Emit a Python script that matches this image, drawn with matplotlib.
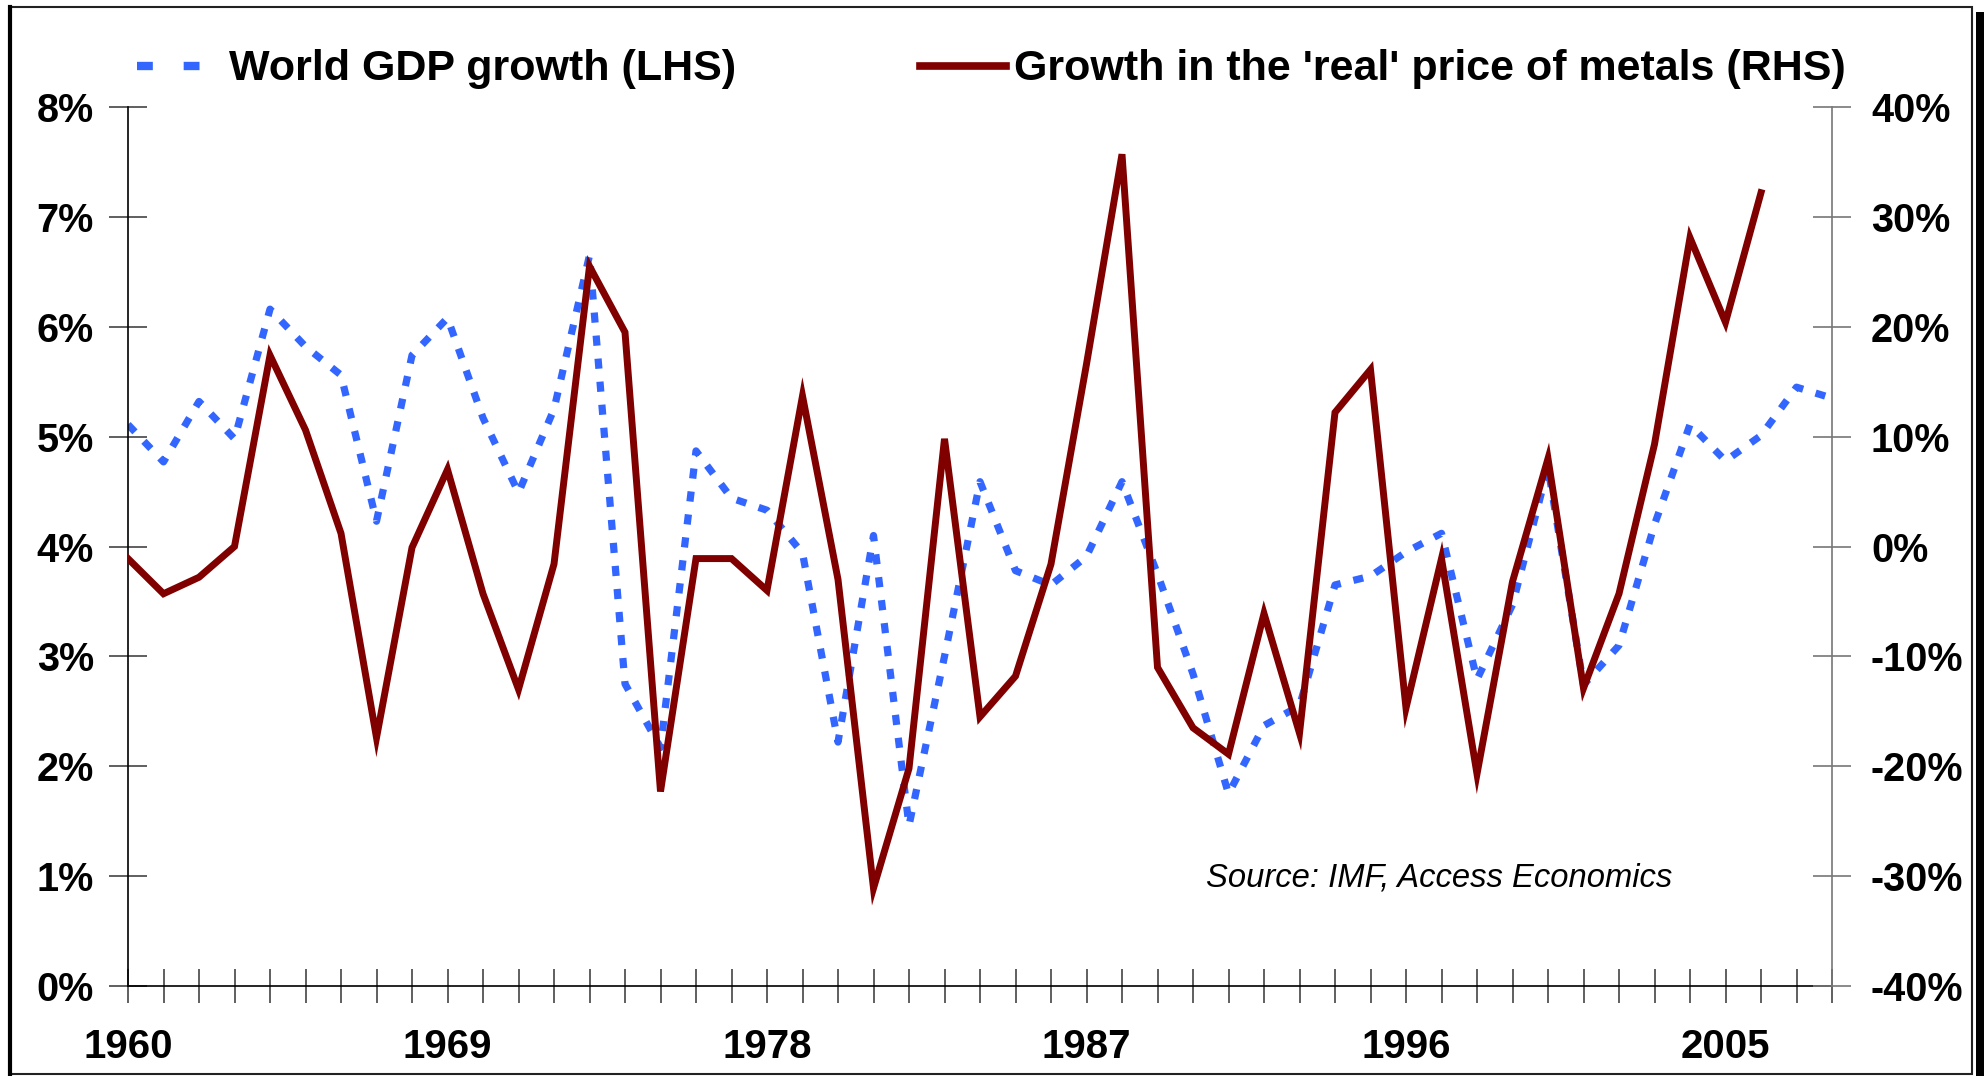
import matplotlib
matplotlib.use("Agg")
import matplotlib.pyplot as plt
from matplotlib.lines import Line2D
from matplotlib.patches import Rectangle

plt.rcParams['font.family'] = ['Liberation Sans', 'DejaVu Sans']

# data
years_gdp = list(range(1960, 2009))
world_gdp = [5.11, 4.77, 5.32, 4.98, 6.16, 5.82, 5.56, 4.23, 5.74, 6.08,
             5.17, 4.49, 5.25, 6.65, 2.75, 2.17, 4.87, 4.44, 4.33, 3.94,
             2.22, 4.10, 1.46, 3.00, 4.59, 3.78, 3.65, 3.91, 4.59, 3.75,
             2.84, 1.75, 2.37, 2.55, 3.65, 3.73, 3.95, 4.12, 2.79, 3.47,
             4.72, 2.74, 3.10, 4.20, 5.11, 4.78, 5.01, 5.45, 5.35]

years_metals = list(range(1960, 2007))
metals_real = [-1.1, -4.3, -2.8, 0.0, 17.4, 10.6, 1.2, -17.4, -0.1, 7.0,
               -4.3, -13.0, -1.6, 25.5, 19.5, -22.3, -1.1, -1.1, -4.0, 13.7,
               -3.0, -31.1, -20.2, 9.8, -15.5, -11.8, -1.6, 16.6, 35.7, -11.0,
               -16.5, -18.9, -6.1, -17.0, 12.2, 16.1, -14.7, -1.1, -20.7, -3.2,
               8.0, -12.9, -4.3, 9.3, 28.1, 20.4, 32.2]

lhs_ticks = [0, 1, 2, 3, 4, 5, 6, 7, 8]
rhs_ticks = [-40, -30, -20, -10, 0, 10, 20, 30, 40]
year_labels = [1960, 1969, 1978, 1987, 1996, 2005]

BLUE = '#3366FF'
RED = '#800000'
W, H = 1984, 1076

fig = plt.figure(figsize=(W / 100, H / 100), dpi=100)
ax = fig.add_axes([128 / W, 1 - 986 / H, (1832 - 128) / W, (986 - 107) / H])
ax2 = ax.twinx()

ax.plot(years_gdp, world_gdp, color=BLUE, lw=5.2, linestyle=(0, (1.4, 1.8)),
        dash_capstyle='butt', solid_joinstyle='miter')
ax2.plot(years_metals, metals_real, color=RED, lw=5, solid_joinstyle='miter')

ax.set_xlim(1960, 2008)
ax.set_ylim(0, 8)
ax2.set_ylim(-40, 40)

ax.set_xticks(years_gdp)
ax.set_xticklabels([str(y) if y in year_labels else '' for y in years_gdp])
ax.set_yticks(lhs_ticks)
ax.set_yticklabels([f"{v}%" for v in lhs_ticks])
ax2.set_yticks(rhs_ticks)
ax2.set_yticklabels([f"{v}%" for v in rhs_ticks])

for a in (ax, ax2):
    a.spines['top'].set_visible(False)
    a.patch.set_visible(False)
ax2.spines['left'].set_visible(False)
ax2.spines['bottom'].set_visible(False)
ax.spines['right'].set_visible(False)
ax.spines['left'].set_color('black')
ax.spines['left'].set_linewidth(1.2)
ax.spines['bottom'].set_color('black')
ax.spines['bottom'].set_linewidth(1.2)
ax2.spines['right'].set_color('#777777')
ax2.spines['right'].set_linewidth(1.2)

ax.tick_params(axis='x', direction='inout', length=24, width=1.2, color='#444444', pad=18)
ax.tick_params(axis='y', direction='inout', length=28, width=1.2, color='#444444', pad=10.5)
ax2.tick_params(axis='y', direction='inout', length=28, width=1.2, color='#777777', pad=14)
for lab in ax.get_xticklabels():
    lab.set_fontsize(29)
    lab.set_fontweight('bold')
for lab in ax.get_yticklabels() + ax2.get_yticklabels():
    lab.set_fontsize(28.5)
    lab.set_fontweight('bold')

# legend drawn by hand to match the spacing of the original
ly = 1 - 66 / H
fig.add_artist(Line2D([137 / W, 200 / W], [ly, ly], color=BLUE, lw=6,
                      linestyle=(0, (1.9, 3.7)), dash_capstyle='butt'))
fig.text(229 / W, 1 - 69 / H, "World GDP growth (LHS)", fontsize=31,
         fontweight='bold', va='center', ha='left')
fig.add_artist(Line2D([920 / W, 1006 / W], [ly, ly], color=RED, lw=5.5))
fig.text(1014 / W, 1 - 69 / H, "Growth in the 'real' price of metals (RHS)", fontsize=31,
         fontweight='bold', va='center', ha='left')

fig.text(1206 / W, 1 - 878 / H, "Source: IMF, Access Economics", fontsize=23.6,
         fontstyle='italic', va='center', ha='left')

# outer frame with shadow on the right
fig.add_artist(Rectangle((10 / W, 1 - 1074 / H), (1972 - 10) / W, (1074 - 7) / H,
                         transform=fig.transFigure, fill=False, ec='#222222', lw=1.5))
fig.add_artist(Line2D([10 / W, 10 / W], [1 - 1074 / H, 1 - 7 / H], color='black', lw=3))
fig.add_artist(Rectangle((1976 / W, 0), 8 / W, 1 - 12 / H,
                         transform=fig.transFigure, color='black', lw=0))

fig.savefig('out.png', dpi=100)
